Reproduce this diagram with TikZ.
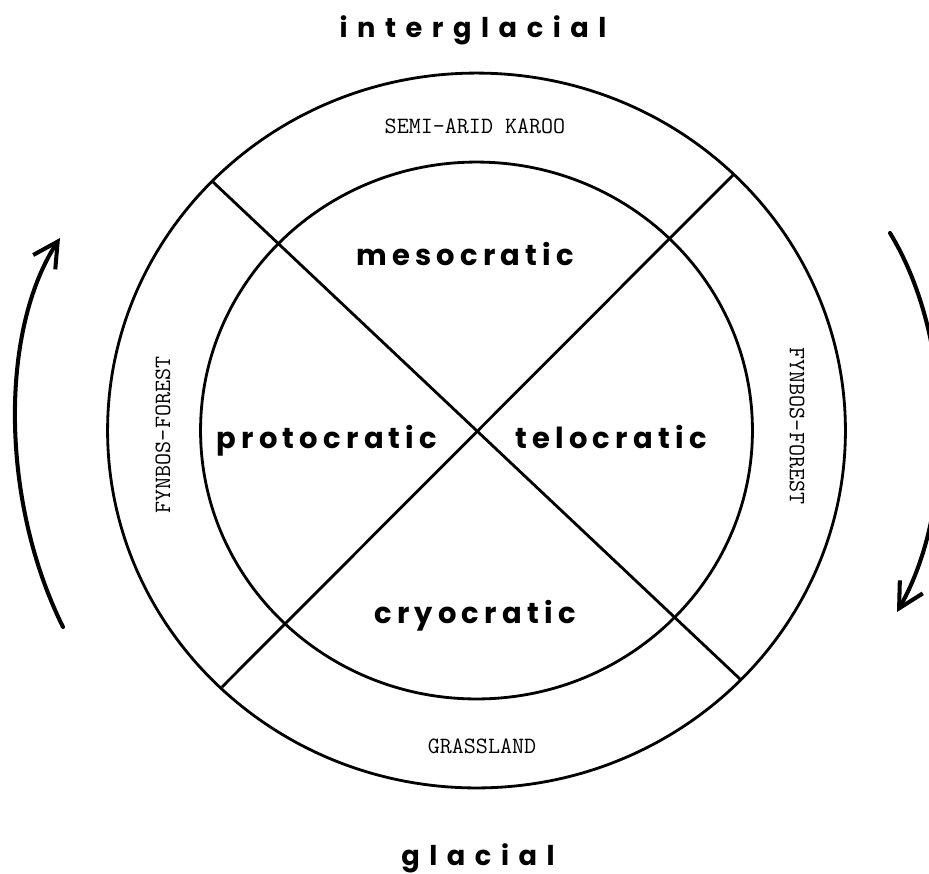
\documentclass[tikz,border=0pt]{standalone}
\usepackage{fontspec}
\usetikzlibrary{arrows.meta}
\newfontfamily\geowide[LetterSpace=35]{Poppins}
\newfontfamily\geomid[LetterSpace=18]{Poppins}
\begin{document}
\begin{tikzpicture}[x=0.02cm,y=-0.02cm,
  ring/.style={line width=1.6pt},
  cycarrow/.style={line width=2.3pt,line cap=round,-{Straight Barb[length=14pt,width=15pt,line width=2.3pt]}},
  phase/.style={inner sep=0pt,anchor=base,font=\geowide\bfseries\fontsize{15.5pt}{18pt}\selectfont},
  stage/.style={inner sep=0pt,anchor=base,font=\geomid\bfseries\fontsize{16.5pt}{20pt}\selectfont},
  veg/.style={inner sep=0pt,font=\ttfamily\fontsize{13.3pt}{16pt}\selectfont}]
\clip (0,0) rectangle (929,873);
\fill[white] (0,0) rectangle (929,873);
\coordinate (O) at (476.5,430.5);
\draw[ring] (O) ellipse [x radius=7.38cm, y radius=7.15cm];
\draw[ring] (O) ellipse [x radius=5.52cm, y radius=5.37cm];
\coordinate (tl) at (213,182);
\coordinate (tr) at (733,175);
\coordinate (bl) at (222,687);
\coordinate (br) at (740,679);
\draw[ring] (tl) -- (br);
\draw[ring] (tr) -- (bl);
% cycle arrows
\coordinate (la) at (63,627);
\coordinate (lb) at (60,238);
\coordinate (ra) at (890,233);
\coordinate (rb) at (897,612);
\draw[cycarrow] (la) .. controls (0,500) and (0,330) .. (lb);
\draw[cycarrow] (ra) .. controls (955,340) and (955,510) .. (rb);
% labels
\node[phase] (inter) at (473,37) {interglacial};
\node[phase] (glac) at (478,865) {glacial};
\node[stage] (meso) at (465,265) {mesocratic};
\node[stage] (proto) at (327,448) {protocratic};
\node[stage] (telo) at (611,448) {telocratic};
\node[stage] (cryo) at (475,623) {cryocratic};
\node[veg,anchor=base] (karoo) at (475,133) {SEMI-ARID KAROO};
\node[veg,anchor=base] (grass) at (482,753) {GRASSLAND};
\node[veg,rotate=90] (fynl) at (163,435) {FYNBOS-FOREST};
\node[veg,rotate=-90] (fynr) at (797,426) {FYNBOS-FOREST};
\end{tikzpicture}
\end{document}
